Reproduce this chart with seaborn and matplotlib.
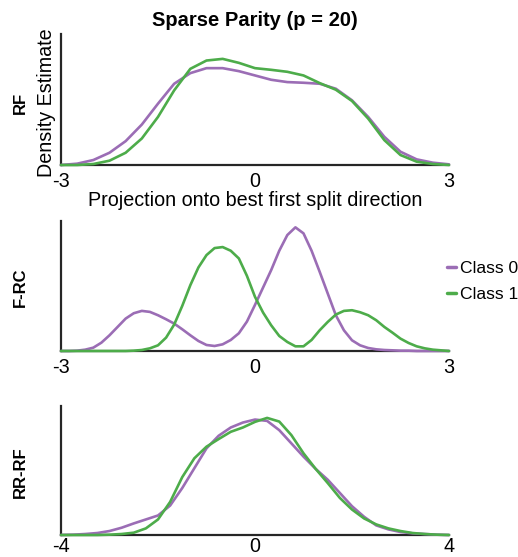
import matplotlib
matplotlib.use("Agg")
import matplotlib.pyplot as plt
import pandas as pd
import seaborn as sns

sns.set_theme(style="white")
plt.rcParams['font.family'] = ['Liberation Sans', 'DejaVu Sans']
plt.rcParams['text.color'] = 'black'

# ---------------- data ----------------
classes = ["Class 0", "Class 1"]
panel_names = ["RF", "F-RC", "RR-RF"]
title_text = "Sparse Parity (p = 20)"
xlabel_text = "Projection onto best first split direction"
ylabel_text = "Density Estimate"

rf_x = [-3, -2.75, -2.5, -2.25, -2, -1.75, -1.5, -1.25, -1, -0.75, -0.5, -0.25, 0,
        0.25, 0.5, 0.75, 1, 1.25, 1.5, 1.75, 2, 2.25, 2.5, 2.75, 3]
rf_class0 = [0.000, 0.004, 0.015, 0.037, 0.072, 0.122, 0.185, 0.245, 0.277, 0.292, 0.292, 0.283, 0.270,
             0.257, 0.250, 0.248, 0.245, 0.230, 0.195, 0.145, 0.085, 0.040, 0.017, 0.007, 0.002]
rf_class1 = [0.000, 0.000, 0.003, 0.013, 0.037, 0.080, 0.145, 0.225, 0.290, 0.315, 0.320, 0.308, 0.292,
             0.287, 0.281, 0.270, 0.247, 0.227, 0.193, 0.140, 0.075, 0.030, 0.010, 0.003, 0.000]

frc_x = [-3, -2.875, -2.75, -2.625, -2.5, -2.375, -2.25, -2.125, -2, -1.875, -1.75, -1.625,
         -1.5, -1.375, -1.25, -1.125, -1, -0.875, -0.75, -0.625, -0.5, -0.375, -0.25, -0.125,
         0, 0.125, 0.25, 0.375, 0.5, 0.625, 0.75, 0.875, 1, 1.125, 1.25, 1.375,
         1.5, 1.625, 1.75, 1.875, 2, 2.125, 2.25, 2.375, 2.5, 2.625, 2.75, 2.875, 3]
frc_class0 = [0.000, 0.000, 0.001, 0.004, 0.010, 0.025, 0.047, 0.072, 0.097, 0.113, 0.120, 0.117,
              0.107, 0.095, 0.082, 0.065, 0.047, 0.030, 0.018, 0.015, 0.020, 0.033, 0.053, 0.088,
              0.138, 0.190, 0.242, 0.300, 0.347, 0.370, 0.352, 0.300, 0.237, 0.172, 0.107, 0.062,
              0.032, 0.017, 0.009, 0.005, 0.003, 0.002, 0.001, 0.001, 0.000, 0.000, 0.000, 0.000, 0.000]
frc_class1 = [0.000, 0.000, 0.000, 0.000, 0.000, 0.000, 0.000, 0.000, 0.000, 0.001, 0.003, 0.008,
              0.017, 0.040, 0.079, 0.135, 0.197, 0.250, 0.287, 0.308, 0.311, 0.300, 0.277, 0.225,
              0.162, 0.115, 0.077, 0.045, 0.027, 0.014, 0.014, 0.033, 0.062, 0.087, 0.109, 0.120,
              0.122, 0.116, 0.107, 0.092, 0.072, 0.055, 0.037, 0.024, 0.014, 0.008, 0.004, 0.002, 0.000]

rrrf_x = [-4, -3.75, -3.5, -3.25, -3, -2.75, -2.5, -2.25, -2, -1.75, -1.5, -1.25, -1,
          -0.75, -0.5, -0.25, 0, 0.25, 0.5, 0.75, 1, 1.25, 1.5, 1.75, 2, 2.25, 2.5,
          2.75, 3, 3.25, 3.5, 3.75, 4]
rrrf_class0 = [0.000, 0.001, 0.003, 0.006, 0.012, 0.022, 0.035, 0.047, 0.059, 0.089, 0.142, 0.202, 0.262,
               0.300, 0.325, 0.340, 0.349, 0.345, 0.317, 0.277, 0.237, 0.200, 0.167, 0.127, 0.087, 0.055, 0.029,
               0.017, 0.009, 0.005, 0.003, 0.001, 0.000]
rrrf_class1 = [0.000, 0.000, 0.000, 0.000, 0.001, 0.003, 0.007, 0.020, 0.047, 0.100, 0.175, 0.232, 0.267,
               0.290, 0.312, 0.325, 0.342, 0.354, 0.343, 0.302, 0.247, 0.200, 0.157, 0.112, 0.077, 0.050, 0.032,
               0.020, 0.012, 0.006, 0.003, 0.001, 0.000]

panels = [
    (rf_x, rf_class0, rf_class1, (-3, 3), [-3, 0, 3], 0.395),
    (frc_x, frc_class0, frc_class1, (-3, 3), [-3, 0, 3], 0.389),
    (rrrf_x, rrrf_class0, rrrf_class1, (-4, 4), [-4, 0, 4], 0.390),
]

palette = {"Class 0": "#9b6db5", "Class 1": "#4dac4a"}
axis_color = "#262626"
fs = 14.2

W, H = 518, 557
fig = plt.figure(figsize=(W / 100, H / 100), dpi=100)

# axes boxes in pixels: (left, top, right, bottom)
boxes = [(61, 34, 449, 165), (61, 221, 449, 351), (61, 406, 449, 535)]
label_y = [103, 287, 472]
tick_pads = [5, 5, 1.5]

for i, ((xs, c0, c1, xlim, xticks, ytop), box) in enumerate(zip(panels, boxes)):
    l, t, r, b = box
    ax = fig.add_axes([l / W, 1 - b / H, (r - l) / W, (b - t) / H])
    df = pd.DataFrame({
        "x": list(xs) + list(xs),
        "density": list(c0) + list(c1),
        "cls": [classes[0]] * len(xs) + [classes[1]] * len(xs),
    })
    sns.lineplot(data=df, x="x", y="density", hue="cls", hue_order=classes,
                 palette=palette, linewidth=1.9, errorbar=None, ax=ax,
                 legend=(i == 1))
    for ln in ax.lines:
        ln.set_clip_on(False)
        ln.set_zorder(3)
        ln.set_solid_joinstyle("round")
        ln.set_solid_capstyle("round")
    ax.set_xlim(*xlim)
    ax.set_ylim(0, ytop)
    ax.set_xticks(xticks)
    ax.set_xticklabels([str(v) for v in xticks])
    ax.set_yticks([])
    ax.set_xlabel("")
    ax.set_ylabel("")
    for s in ["top", "right"]:
        ax.spines[s].set_visible(False)
    for s in ["left", "bottom"]:
        ax.spines[s].set_linewidth(1.6)
        ax.spines[s].set_color(axis_color)
    ax.tick_params(axis="x", direction="in", length=4, width=1.6, color=axis_color,
                   labelsize=fs, labelcolor="black", pad=tick_pads[i])
    fig.text(20 / W, 1 - label_y[i] / H, panel_names[i], rotation=90, ha="center",
             va="center", fontsize=12, fontweight="bold", color="black")
    if i == 1:
        handles, labels = ax.get_legend_handles_labels()
        ax.legend_.remove()
        leg = fig.legend(handles, labels, loc="upper left",
                         bbox_to_anchor=(447 / W, 1 - 261 / H),
                         bbox_transform=fig.transFigure, frameon=False,
                         fontsize=12.6, handlelength=0.5, handletextpad=0.25,
                         labelspacing=0.6, borderpad=0, borderaxespad=0)
        for h in leg.get_lines():
            h.set_linewidth(2.5)
        for txt in leg.get_texts():
            txt.set_color("black")

fig.text(255 / W, 1 - 20 / H, title_text, ha="center", va="center",
         fontsize=14.5, fontweight="bold", color="black")
fig.text(255 / W, 1 - 200 / H, xlabel_text, ha="center", va="center", fontsize=fs, color="black")
fig.text(47 / W, 1 - 103 / H, ylabel_text, rotation=90, ha="center", va="center", fontsize=fs,
         color="black")

fig.savefig("out.png", dpi=100)
